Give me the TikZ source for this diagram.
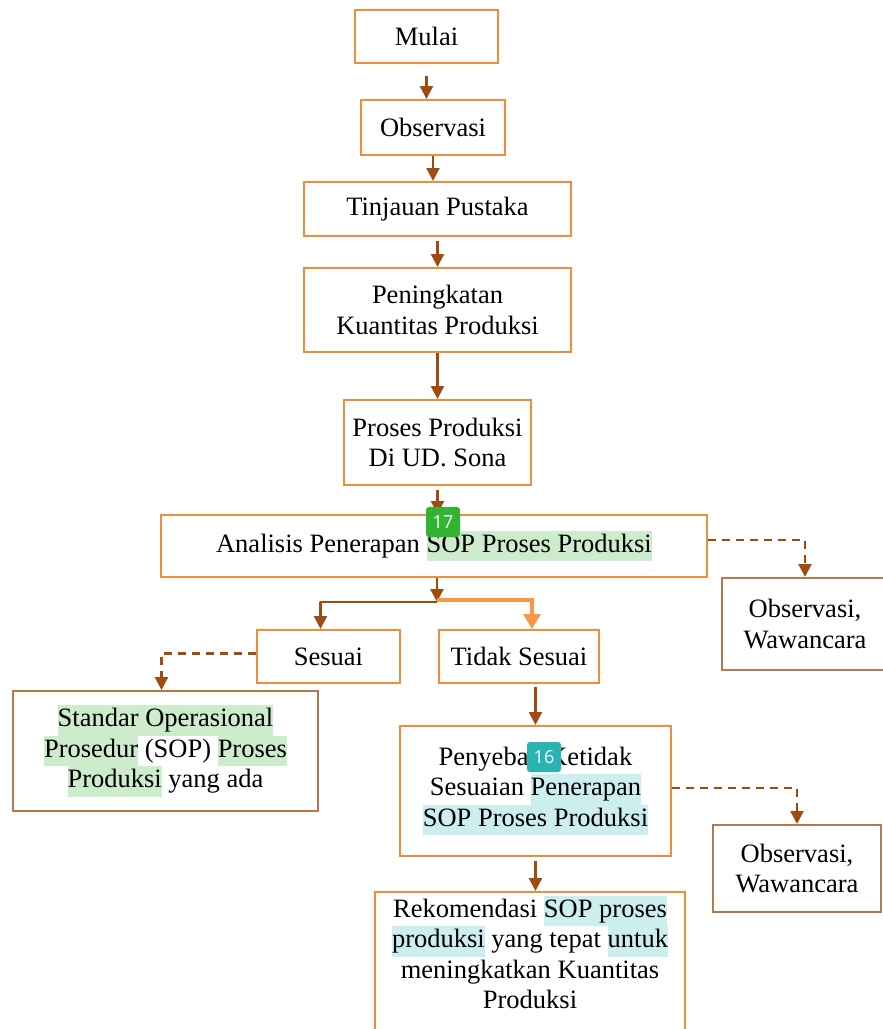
\documentclass[tikz,border=0pt]{standalone}
\usepackage{fontspec}
\setmainfont{Liberation Serif}
\newfontfamily\badgefont{Open Sans}
\usepackage{tikz}
\usetikzlibrary{arrows.meta, positioning}
\definecolor{boxorange}{RGB}{240,140,60}
\definecolor{boxbrown}{RGB}{185,120,75}
\definecolor{arrowbrown}{RGB}{160,75,15}
\definecolor{markorange}{RGB}{250,150,70}
\definecolor{hlgreen}{RGB}{204,236,204}
\definecolor{hlteal}{RGB}{204,238,238}
\definecolor{badgegreen}{RGB}{50,180,50}
\definecolor{badgeteal}{RGB}{40,180,180}
\tikzstyle{box} = [draw=boxorange, line width=2pt, fill=white, align=center, inner sep=0pt]
\tikzstyle{sidebox} = [box, draw=boxbrown]
\tikzstyle{arrow} = [line width=2.4pt, arrowbrown, line join=round, -{Triangle[length=13pt,width=13pt]}]
\tikzstyle{dasharrow} = [arrow, dash pattern=on 8pt off 6pt]
\tikzstyle{markarrow} = [line width=4.5pt, markorange, -{Triangle[length=15pt,width=17pt]}]
\tikzstyle{badge} = [rounded corners=3pt, text=white, font=\badgefont\fontsize{18}{20}\selectfont, minimum width=34pt, minimum height=30pt, inner sep=0pt]
\newcommand{\hlg}[1]{{\setlength{\fboxsep}{0pt}\colorbox{hlgreen}{\strut#1}}}
\newcommand{\hlt}[1]{{\setlength{\fboxsep}{0pt}\colorbox{hlteal}{\strut#1}}}

\begin{document}
\begin{tikzpicture}[x=1pt, y=-1pt, font=\fontsize{26.5}{30.5}\selectfont]
                \path[use as bounding box] (0,0) rectangle (883,1029);
                \clip (0,0) rectangle (883,1029);

                % Main chain
                \node[box, minimum width=143pt, minimum height=53pt] (mulai) at (426.5,36.5) {Mulai};
                \node[box, minimum width=144pt, minimum height=55pt] (observasi) at (433,127.5) {Observasi};
                \node[box, minimum width=267pt, minimum height=54pt] (tinjauan) at (437.5,209) {Tinjauan Pustaka};
                \node[box, minimum width=267pt, minimum height=84pt] (peningkatan) at (437.5,310) {Peningkatan\\ Kuantitas Produksi};
                \node[box, minimum width=187pt, minimum height=85pt] (proses) at (437.5,442.5) {Proses Produksi\\ Di UD. Sona};
                \node[box, minimum width=546pt, minimum height=62pt] (analisis) at (434,546) {Analisis Penerapan \hlg{SOP Proses Produksi}};

                % Branches
                \node[sidebox, minimum width=166pt, minimum height=92pt] (obs1) at (805,624) {Observasi,\\ Wawancara};
                \node[box, minimum width=143pt, minimum height=53pt] (sesuai) at (328.5,656.5) {Sesuai};
                \node[box, minimum width=160pt, minimum height=53pt] (tidak) at (519,656.5) {Tidak Sesuai};
                \node[sidebox, minimum width=305pt, minimum height=120pt] (standar) at (165.5,751) {\hlg{Standar Operasional}\\ \hlg{Prosedur} (SOP) \hlg{Proses}\\ \hlg{Produksi} yang ada};
                \node[box, minimum width=271pt, minimum height=130pt] (penyebab) at (535.5,791) {Penyebab Ketidak\\ Sesuaian \hlt{Penerapan}\\ \hlt{SOP Proses Produksi}};
                \node[sidebox, minimum width=168pt, minimum height=87pt] (obs2) at (797,868.5) {Observasi,\\ Wawancara};
                \node[box, anchor=north, minimum width=310pt, minimum height=160pt] (rekomendasi) at (530,891) {Rekomendasi \hlt{SOP proses}\\ \hlt{produksi} yang tepat \hlt{untuk}\\ meningkatkan Kuantitas\\ Produksi\\ \strut};

                % Edges of the main chain
                \foreach \a/\b/\gap in {mulai/observasi/12, observasi/tinjauan/0, tinjauan/peningkatan/4, peningkatan/proses/0, proses/analisis/4, penyebab/rekomendasi/4}
                \draw[arrow] ([yshift=-\gap pt]\a.south) -- (\a.south |- \b.north);
                \draw[arrow] ([yshift=-3pt]tidak.south -| penyebab.north) -- (penyebab.north);

                % Split below the analysis
                \coordinate (split) at ([xshift=3pt,yshift=-24pt]analisis.south);
                \draw[arrow] ([xshift=3pt]analisis.south) -- (split);
                \draw[arrow] (split) -| ([xshift=-8pt]sesuai.north);
                \draw[markarrow] ([yshift=2pt]split) -| ([xshift=13pt]tidak.north);

                % Dashed side arrows
                \draw[dasharrow] ([yshift=6pt]analisis.east) -| (obs1.north);
                \draw[dasharrow] ([yshift=3pt]sesuai.west) -| ([xshift=-4pt]standar.north);
                \draw[dasharrow] ([yshift=3pt]penyebab.east) -| (obs2.north);

                % Badges
                \node[badge, fill=badgegreen] (badge17) at (443,522) {17};
                \node[badge, fill=badgeteal] (badge16) at (544,757) {16};
            \end{tikzpicture}
\end{document}
